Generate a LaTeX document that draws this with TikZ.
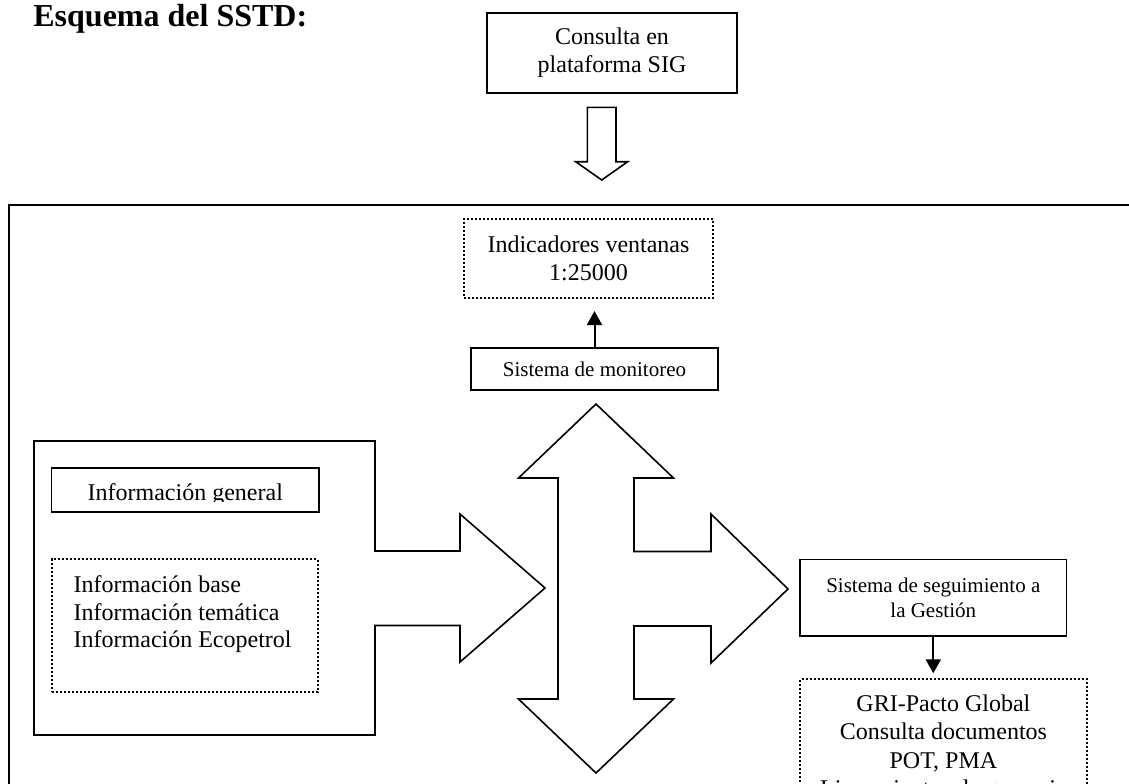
\documentclass[tikz,border=0pt]{standalone}
\usepackage{fontspec}
\setmainfont{Liberation Serif}
\usetikzlibrary{arrows.meta}
\newcommand\letranormal{\fontsize{12}{13.8}\selectfont}
\newcommand\letrachica{\fontsize{10.5}{12.5}\selectfont}
\begin{document}
\begin{tikzpicture}[x=0.5pt, y=-0.5pt,
    caja/.style={draw, line width=0.8pt, inner sep=0pt, align=center},
    cajapunteada/.style={draw, line width=1pt, dash pattern=on 1pt off 1pt, inner sep=0pt, align=center},
    flecha/.style={-{Triangle[width=7.5pt, length=7pt]}, line width=1pt},
    bloque/.style={draw, line width=0.8pt, line join=miter}]
    \useasboundingbox (0,0) rectangle (1129,783);
    \clip (0,0) rectangle (1129,783);

    % título
    \node[anchor=base west, inner sep=0pt, font=\fontsize{16}{19}\selectfont\bfseries] (titulo) at (33,26) {Esquema del SSTD:};

    % consulta y flecha de bloque
    \node[caja, minimum width=125pt, minimum height=40pt, font=\letranormal] (consulta) at (612,53) {Consulta en\\plataforma SIG};
    \draw[bloque] (587.4,107.3) -- (616,107.3) -- (616,161.7) -- (627.7,161.7) -- (601.7,180) -- (575.7,161.7) -- (587.4,161.7) -- cycle;

    % recuadro exterior
    \draw[line width=1.1pt] (9,205) rectangle (1160,820);

    % indicadores y monitoreo
    \node[cajapunteada, minimum width=124.5pt, minimum height=39.5pt, font=\letranormal] (indicadores) at (588.5,258.5) {Indicadores ventanas\\1:25000};
    \node[caja, minimum width=123.5pt, minimum height=21pt, font=\letrachica] (monitoreo) at (594.5,369) {Sistema de monitoreo};
    \draw[flecha, shorten >=6pt] (monitoreo.north) -- (monitoreo.north |- indicadores.south);

    % flecha cruzada
    \draw[bloque] (596,404) -- (673.5,478) -- (634,478) -- (634,551.5) -- (711,551.5) -- (711,514) -- (788,589) -- (711,663) -- (711,626) -- (634,626) -- (634,699) -- (673.5,699) -- (596,773) -- (518.5,699) -- (558,699) -- (558,478) -- (518.5,478) -- cycle;

    % bloque de información
    \draw[bloque] (34,441) -- (375,441) -- (375,551) -- (460,551) -- (460,514) -- (545,588) -- (460,662) -- (460,625.5) -- (375,625.5) -- (375,735) -- (34,735) -- cycle;

    \node[caja, minimum width=133.7pt, minimum height=22pt] (general) at (185.3,489.7) {};
    \begin{scope}
        \clip (general.north west) rectangle (319,501);
        \node[anchor=base, inner sep=0pt, font=\letranormal] (generaltexto) at (185.3,500.5) {Información general};
    \end{scope}

    \node[cajapunteada, minimum width=133pt, minimum height=66.2pt] (tematica) at (184.7,625.5) {};
    \node[anchor=north west, inner sep=0pt, align=left, font=\letranormal] (tematicatexto) at (73.3,575.3) {Información base\\Información temática\\Información Ecopetrol};

    % seguimiento a la gestión
    \node[caja, minimum width=133.3pt, minimum height=38.2pt, font=\letrachica] (seguimiento) at (933.3,597.5) {Sistema de seguimiento a\\la Gestión};
    \node[cajapunteada, anchor=north, minimum width=143.3pt, inner ysep=7.8pt, font=\fontsize{12}{14.2}\selectfont] (gri) at (943.4,678.3) {GRI-Pacto Global\\Consulta documentos\\POT, PMA\\Lineamientos de gerencia};
    \draw[flecha, shorten >=2.5pt] (seguimiento.south) -- (seguimiento.south |- gri.north);

\end{tikzpicture}
\end{document}
